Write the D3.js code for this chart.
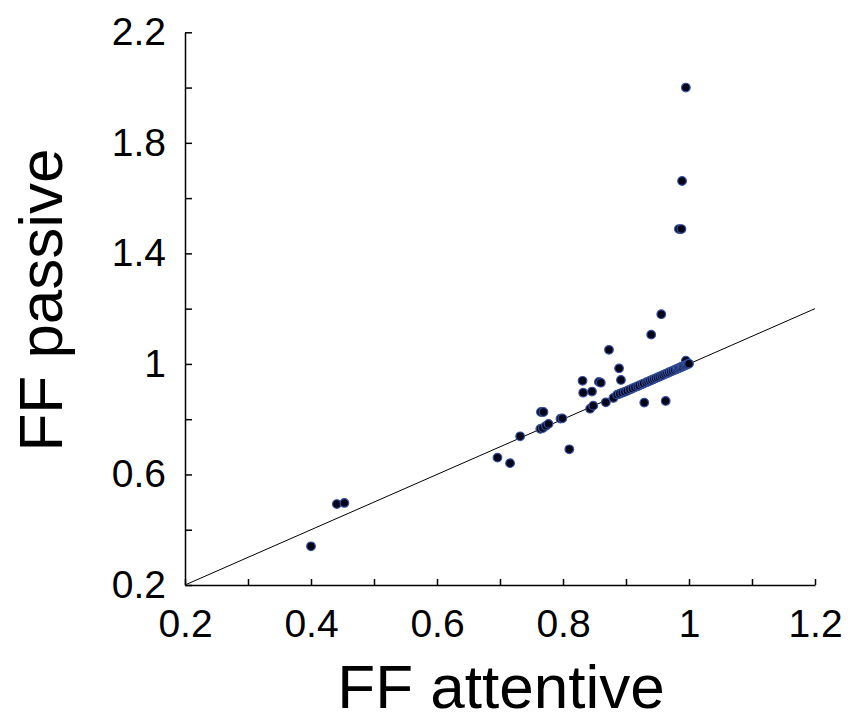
<!DOCTYPE html>
<html>
<head>
<meta charset="utf-8">
<script src="https://cdn.jsdelivr.net/npm/d3@7"></script>
<style>
  body { margin: 0; background: #fff; }
  svg { display: block; font-family: "Liberation Sans", Arial, sans-serif; }
</style>
</head>
<body>
<svg id="chart" width="850" height="722"></svg>
<script>
// FF attentive (x) vs FF passive (y)
const ffAttentive = [
  0.400, 0.441, 0.453, 0.696, 0.716, 0.732, 0.765, 0.769, 0.764, 0.768,
  0.773, 0.777, 0.796, 0.799, 0.810, 0.831, 0.832, 0.846, 0.843, 0.848,
  0.857, 0.860, 0.873, 0.868, 0.880, 0.889, 0.892, 0.929, 0.940, 0.963,
  0.956, 0.995, 0.995, 0.989, 0.984, 0.988,
  0.886, 0.890, 0.894, 0.898, 0.902, 0.906, 0.910, 0.914, 0.918, 0.921,
  0.925, 0.928, 0.932, 0.935, 0.938, 0.941, 0.944, 0.947, 0.950, 0.953,
  0.956, 0.959, 0.962, 0.965, 0.968, 0.971, 0.974, 0.977, 0.980, 0.982,
  0.984, 0.986, 0.988, 0.990, 0.992, 0.994, 0.996, 0.998, 1.000
];
const ffPassive = [
  0.340, 0.493, 0.497, 0.661, 0.641, 0.738, 0.826, 0.826, 0.765, 0.768,
  0.776, 0.783, 0.802, 0.803, 0.691, 0.939, 0.896, 0.900, 0.838, 0.849,
  0.935, 0.932, 1.051, 0.861, 0.877, 0.984, 0.942, 0.860, 1.106, 0.866,
  1.180, 1.012, 2.000, 1.662, 1.488, 1.488,
  0.889, 0.892, 0.896, 0.899, 0.903, 0.907, 0.911, 0.915, 0.919, 0.922,
  0.926, 0.929, 0.933, 0.936, 0.939, 0.942, 0.945, 0.948, 0.951, 0.954,
  0.957, 0.960, 0.963, 0.966, 0.969, 0.972, 0.975, 0.978, 0.981, 0.983,
  0.985, 0.987, 0.989, 0.991, 0.993, 0.995, 0.997, 0.999, 1.001
];
const xTicks = [0.2, 0.3, 0.4, 0.5, 0.6, 0.7, 0.8, 0.9, 1.0, 1.1, 1.2];
const xLabels = ["0.2", "", "0.4", "", "0.6", "", "0.8", "", "1", "", "1.2"];
const yTicks = [0.2, 0.4, 0.6, 0.8, 1.0, 1.2, 1.4, 1.6, 1.8, 2.0, 2.2];
const yLabels = ["0.2", "", "0.6", "", "1", "", "1.4", "", "1.8", "", "2.2"];
const unityLine = [0.2, 1.2];

const svg = d3.select("#chart");

const x = d3.scaleLinear().domain([0.2, 1.2]).range([185, 815]);
const y = d3.scaleLinear().domain([0.2, 2.2]).range([585, 32.3]);

const data = ffAttentive.map((v, i) => ({x: v, y: ffPassive[i]}));

// x axis, ticks pointing inward
const xAxis = svg.append("g")
  .attr("transform", `translate(0,${y(0.2)})`)
  .call(d3.axisBottom(x)
    .tickValues(xTicks)
    .tickFormat((d, i) => xLabels[i])
    .tickSizeInner(-6)
    .tickSizeOuter(0)
    .tickPadding(24));

const yAxis = svg.append("g")
  .attr("transform", `translate(${x(0.2)},0)`)
  .call(d3.axisLeft(y)
    .tickValues(yTicks)
    .tickFormat((d, i) => yLabels[i])
    .tickSizeInner(-7)
    .tickSizeOuter(0)
    .tickPadding(19));

[xAxis, yAxis].forEach(g => {
  g.selectAll("path, line").attr("stroke", "#000").attr("stroke-width", 1.5);
  g.selectAll("text")
    .attr("fill", "#000")
    .style("font-size", "39px")
    .style("font-family", "'Liberation Sans', Arial, sans-serif");
});

// unity line
svg.append("line")
  .attr("x1", x(unityLine[0])).attr("y1", y(unityLine[0]))
  .attr("x2", x(unityLine[1])).attr("y2", y(unityLine[1]))
  .attr("stroke", "#000")
  .attr("stroke-width", 1);

svg.append("g")
  .selectAll("circle")
  .data(data)
  .join("circle")
  .attr("cx", d => x(d.x))
  .attr("cy", d => y(d.y))
  .attr("r", 4.3)
  .attr("fill", "#05051a")
  .attr("stroke", "#3550a0")
  .attr("stroke-width", 1.2);

svg.append("text")
  .attr("x", 501)
  .attr("y", 708)
  .attr("text-anchor", "middle")
  .style("font-size", "62px")
  .text("FF attentive");

svg.append("text")
  .attr("transform", "translate(62,300) rotate(-90)")
  .attr("text-anchor", "middle")
  .style("font-size", "62px")
  .text("FF passive");
</script>
</body>
</html>
